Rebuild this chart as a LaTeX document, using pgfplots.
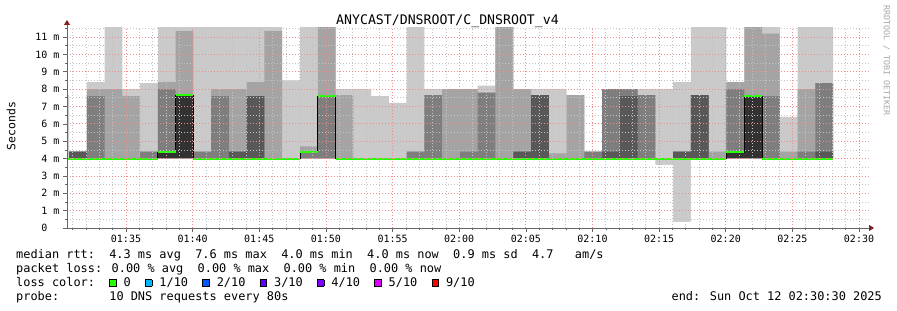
\documentclass[border=0pt]{standalone}
\usepackage{pgfplots}
\pgfplotsset{compat=1.18}
\usepackage{pgfplotstable}
\usepackage{fontspec}
\setmainfont{DejaVu Sans Mono}
\usetikzlibrary{arrows.meta}
\definecolor{s1}{HTML}{CACACA}
\definecolor{s2}{HTML}{A4A4A4}
\definecolor{s3}{HTML}{7E7E7E}
\definecolor{s4}{HTML}{585858}
\definecolor{s5}{HTML}{323232}
\definecolor{lc0}{HTML}{26FF00}
\definecolor{lc1}{HTML}{00B8FF}
\definecolor{lc2}{HTML}{0059FF}
\definecolor{lc3}{HTML}{5E00FF}
\definecolor{lc4}{HTML}{7E00FF}
\definecolor{lc5}{HTML}{DD00FF}
\definecolor{lc9}{HTML}{FF0000}
\definecolor{mgrid}{HTML}{F08C8C}
\definecolor{mingrid}{HTML}{C4C4C4}
\definecolor{arrowc}{HTML}{802020}

% smoke bands: h1 (outer) .. h5 (inner) tops, b = band base, med = median
\pgfplotstableread{
t      h1    h2    h3    h4    h5    b  med
-1     7.65  4     4     4     4     4  4
0.723  4.4   4.4   4.4   4.4   4     4  4
2.056  8.4   8.0   7.6   4     4     4  4
3.390  12    8.0   4     4     4     4  4
4.723  8.0   7.6   4     4     4     4  4
6.056  8.35  4.4   4.4   4     4     4  4
7.390  12    8.4   8.0   4.4   4.35  4  4.35
8.723  12    11.35 7.65  7.65  7.65  4  7.65
10.056 12    4.4   4.4   4     4     4  4
11.390 12    8.0   7.6   4     4     4  4
12.723 12    8.0   4.4   4.4   4     4  4
14.056 12    8.4   7.6   7.6   4     4  4
15.390 12    11.35 4     4     4     4  4
16.723 8.5   4     4     4     4     4  4
18.056 12    4.7   4.35  4     4     4  4.35
19.390 12    12    7.6   4     4     4  7.6
20.723 8.0   7.65  4     4     4     4  4
22.056 8.0   4     4     4     4     4  4
23.390 7.6   4     4     4     4     4  4
24.723 7.2   4     4     4     4     4  4
26.056 12    4.4   4.4   4     4     4  4
27.390 8.0   7.65  7.65  4     4     4  4
28.723 8.0   8.0   4     4     4     4  4
30.056 8.0   8.0   4.4   4     4     4  4
31.390 8.2   7.8   7.8   4     4     4  4
32.723 12    12    4     4     4     4  4
34.056 8.0   8.0   4.4   4.4   4     4  4
35.390 8.0   7.65  7.65  7.65  4     4  4
36.723 8.0   4.3   4     4     4     4  4
38.056 7.65  7.65  4     4     4     4  4
39.390 4.4   4.4   4.4   4     4     4  4
40.723 8.0   8.0   8.0   4.4   4     4  4
42.056 8.0   8.0   8.0   7.6   4     4  4
43.390 8.0   7.65  7.65  4     4     4  4
44.723 8.0   4     4     4     4     4  4
46.056 8.4   4.4   4.4   4.4   4     4  4
47.390 12    7.65  7.65  7.65  4     4  4
48.723 12    4.4   4     4     4     4  4
50.056 8.4   8.4   8.0   4.4   4.35  4  4.35
51.390 12    12    7.6   7.6   7.6   4  7.6
52.723 12    11.2  7.6   4     4     4  4
54.056 6.4   4.4   4     4     4     4  4
55.390 12    8.0   4.4   4     4     4  4
56.723 12    8.35  8.35  4.4   4     4  4
58.056 12    8.35  8.35  4.4   4     4  4
}\smoke

% lowest ping of each step (white below it)
\pgfplotstableread{
t      lo
-1     4
44.723 3.63
46.056 0.36
47.390 4
62     4
}\low

\pgfplotstableread{
t      med
0.573  4
7.390  4.35
8.723  7.65
10.056 4
18.056 4.35
19.390 7.6
20.723 4
50.056 4.35
51.390 7.6
52.723 4
58.056 4
}\median

\newcommand\lb[1]{\makebox[0.602em][l]{{\fboxsep=0pt\fboxrule=0.7bp\fbox{\textcolor{#1}{\rule{5.8bp}{6bp}}}}}}

\begin{document}
\begin{tikzpicture}[x=1bp,y=1bp]
\useasboundingbox (0,0) rectangle (897,310);
\begin{axis}[
  at={(67bp,82bp)}, anchor=south west,
  scale only axis, width=802bp, height=200bp,
  xmin=0.573, xmax=60.75, ymin=0, ymax=11.52,
  axis x line*=bottom, axis y line*=left,
  axis on top,
  x axis line style={draw=black!60, line width=0.8bp, shorten <=-4bp, shorten >=-5bp, -{Triangle[length=5bp,width=6bp,color=arrowc]}},
  y axis line style={draw=black!60, line width=0.8bp, shorten >=-8bp, -{Triangle[length=5bp,width=6bp,color=arrowc]}},
  xtick={5,10,...,60},
  xticklabels={01:35,01:40,01:45,01:50,01:55,02:00,02:05,02:10,02:15,02:20,02:25,02:30},
  minor xtick={1,...,60},
  ytick={0,1,...,11},
  yticklabels={0,1\rlap{ m},2\rlap{ m},3\rlap{ m},4\rlap{ m},5\rlap{ m},6\rlap{ m},7\rlap{ m},8\rlap{ m},9\rlap{ m},10\rlap{ m},11\rlap{ m}},
  minor ytick={0.5,1.5,...,11.5},
  grid=both,
  major grid style={mgrid, dash pattern=on 1bp off 2bp, line width=0.7bp},
  minor grid style={mingrid, dash pattern=on 1bp off 2bp, line width=0.7bp},
  tick align=outside,
  major tick length=4bp, minor tick length=2bp,
  tick style={black!60, line width=0.6bp},
  ticklabel style={font=\fontsize{10bp}{12bp}\selectfont},
  yticklabel style={xshift=-12bp},
  clip=true,
]
\addplot[draw=none, fill=s1, const plot] table[x=t,y=h1]{\smoke} \closedcycle;
\addplot[draw=none, fill=s2, const plot] table[x=t,y=h2]{\smoke} \closedcycle;
\addplot[draw=none, fill=s3, const plot] table[x=t,y=h3]{\smoke} \closedcycle;
\addplot[draw=none, fill=s4, const plot] table[x=t,y=h4]{\smoke} \closedcycle;
\addplot[draw=none, fill=s5, const plot] table[x=t,y=h5]{\smoke} \closedcycle;
\addplot[draw=none, fill=s1, const plot] table[x=t,y=b]{\smoke} \closedcycle;
\addplot[draw=none, fill=white, const plot] table[x=t,y=lo]{\low} \closedcycle;
\addplot[black, line width=1bp, const plot] table[x=t,y=med]{\median};
\addplot[lc0, line width=2bp, jump mark left] table[x=t,y=med]{\median};
\end{axis}
% title, axis label, watermark
\node[anchor=base, font=\fontsize{13.2bp}{15bp}\selectfont] at (447.5,285.7) {ANYCAST/DNSROOT/C\_DNSROOT\_v4};
\node[rotate=90, font=\fontsize{11.4bp}{13bp}\selectfont] at (11,184) {Seconds};
\node[rotate=-90, anchor=west, text=black!35, font=\fontsize{8.3bp}{10bp}\selectfont, inner sep=0pt] at (886.5,305) {RRDTOOL / TOBI OETIKER};
% legend
\begin{scope}[every node/.style={anchor=base west, inner sep=0pt, font=\fontsize{11.9bp}{14bp}\selectfont}]
\node at (16,52) {median rtt:\ \ 4.3 ms avg\ \ 7.6 ms max\ \ 4.0 ms min\ \ 4.0 ms now\ \ 0.9 ms sd\ \ 4.7\ \ \ am/s};
\node at (16,38) {packet loss: 0.00 \% avg\ \ 0.00 \% max\ \ 0.00 \% min\ \ 0.00 \% now};
\node at (16,24) {loss color:\ \ \lb{lc0} 0\ \ \lb{lc1} 1/10\ \ \lb{lc2} 2/10\ \ \lb{lc3} 3/10\ \ \lb{lc4} 4/10\ \ \lb{lc5} 5/10\ \ \lb{lc9} 9/10};
\node at (16,10) {probe:\ \ \ \ \ \ \ 10 DNS requests every 80s};
\node[anchor=base east] at (882,10) {end: Sun Oct 12 02:30:30 2025};
\end{scope}
\end{tikzpicture}
\end{document}
